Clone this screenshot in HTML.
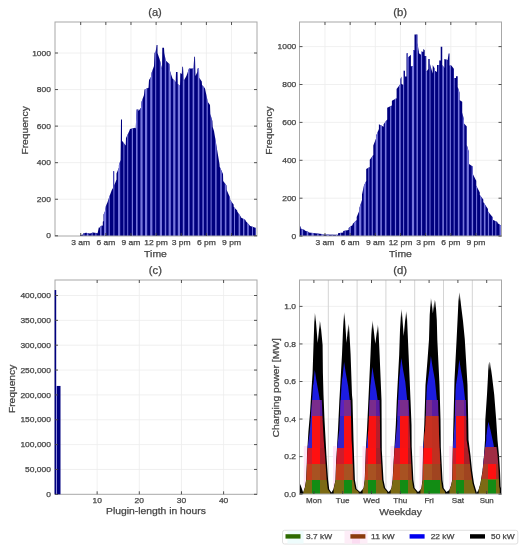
<!DOCTYPE html>
<html><head><meta charset="utf-8"><style>
html,body{margin:0;padding:0;background:#fff;overflow:hidden;}
svg{display:block;will-change:transform;font-family:"Liberation Sans", sans-serif;}

</style></head><body>
<svg width="526" height="550" viewBox="0 0 526 550">
<rect width="526" height="550" fill="#fff"/>
<g>
<line x1="80.69" y1="22" x2="80.69" y2="236" stroke="#ececec" stroke-width="0.8"/>
<line x1="105.83" y1="22" x2="105.83" y2="236" stroke="#ececec" stroke-width="0.8"/>
<line x1="130.97" y1="22" x2="130.97" y2="236" stroke="#ececec" stroke-width="0.8"/>
<line x1="156.11" y1="22" x2="156.11" y2="236" stroke="#ececec" stroke-width="0.8"/>
<line x1="181.25" y1="22" x2="181.25" y2="236" stroke="#ececec" stroke-width="0.8"/>
<line x1="206.39" y1="22" x2="206.39" y2="236" stroke="#ececec" stroke-width="0.8"/>
<line x1="231.53" y1="22" x2="231.53" y2="236" stroke="#ececec" stroke-width="0.8"/>
<line x1="55" y1="199.24" x2="257" y2="199.24" stroke="#ececec" stroke-width="0.8"/>
<line x1="55" y1="162.68" x2="257" y2="162.68" stroke="#ececec" stroke-width="0.8"/>
<line x1="55" y1="126.12" x2="257" y2="126.12" stroke="#ececec" stroke-width="0.8"/>
<line x1="55" y1="89.56" x2="257" y2="89.56" stroke="#ececec" stroke-width="0.8"/>
<line x1="55" y1="53" x2="257" y2="53" stroke="#ececec" stroke-width="0.8"/>
<defs>
<pattern id="stripeA" patternUnits="userSpaceOnUse" x="0" y="0" width="8.2" height="10"><rect width="8.2" height="10" fill="#00007e"/><rect x="2.6" width="1.5" height="10" fill="#7474dc"/><rect x="6.6" width="1.3" height="10" fill="#6c6cd6"/></pattern>
<pattern id="stripeB" patternUnits="userSpaceOnUse" x="1.2" y="0" width="8.2" height="10"><rect width="8.2" height="10" fill="#00007e"/><rect x="2.6" width="1.5" height="10" fill="#7474dc"/><rect x="6.6" width="1.3" height="10" fill="#6c6cd6"/></pattern>
</defs>
<clipPath id="clipstripeA"><polygon points="55.5,236 80,236 80.5,235 83,234.5 83,233.5 86,232.8 90,233.6 93,232.6 97.6,233.2 98.8,227.4 100.5,227.4 100.5,226 102.8,225.5 102.8,221.7 103.5,221 103.5,214.5 104.8,212 105.9,206 107.6,202 109.4,196.5 111.8,190 113,188 113,171.3 114.2,171.3 114.2,185.4 116.5,179.5 116.5,173.6 118.9,167.7 118.9,165.3 120.6,160 121,119.5 122,119.5 122,140.7 125.7,145.5 126,138 129.3,131 130,129 135,127.7 135.7,128.6 136.6,109.5 138.5,109.5 138.5,111 141,107.7 141.5,102 144,95 144.5,89.5 148.5,87.7 149,80 151,77 151.5,73 154,66 154.5,53 155.7,51.4 156.6,45 157.5,45 157.5,53 159.4,58.6 160,60.5 162,69.5 162.3,47.7 164,47.7 164.3,53 165.7,60.5 169.4,64 170,71 172,77 172.5,78.6 175.7,82 176,72 177.5,72 177.8,84 180,86 180.3,73 181.8,74 182.3,66.8 183,66.8 183.6,81 186.4,76 189,68.6 193.6,68.6 194.2,56.8 195,56.8 195.5,76 197.3,72 197.5,68.6 199,68.6 199.2,77.7 201.8,81.4 202,85 204.5,87.7 205,88.6 207.3,99.5 207.5,101.4 210,105 210.3,114 212.4,121 212.7,127 214,131 216,143 216.4,145.5 219.5,164 219.7,166.7 223,174 223.2,181 226.5,185.6 226.7,190 230,197.5 230.2,200 233.6,204.6 233.8,207 237.2,210.5 237.4,211.7 240.7,216.4 241,217.5 245.5,220 245.7,221 250.2,226 250.4,226 256,228 256,236"/></clipPath>
<polygon points="55.5,236 80,236 80.5,235 83,234.5 83,233.5 86,232.8 90,233.6 93,232.6 97.6,233.2 98.8,227.4 100.5,227.4 100.5,226 102.8,225.5 102.8,221.7 103.5,221 103.5,214.5 104.8,212 105.9,206 107.6,202 109.4,196.5 111.8,190 113,188 113,171.3 114.2,171.3 114.2,185.4 116.5,179.5 116.5,173.6 118.9,167.7 118.9,165.3 120.6,160 121,119.5 122,119.5 122,140.7 125.7,145.5 126,138 129.3,131 130,129 135,127.7 135.7,128.6 136.6,109.5 138.5,109.5 138.5,111 141,107.7 141.5,102 144,95 144.5,89.5 148.5,87.7 149,80 151,77 151.5,73 154,66 154.5,53 155.7,51.4 156.6,45 157.5,45 157.5,53 159.4,58.6 160,60.5 162,69.5 162.3,47.7 164,47.7 164.3,53 165.7,60.5 169.4,64 170,71 172,77 172.5,78.6 175.7,82 176,72 177.5,72 177.8,84 180,86 180.3,73 181.8,74 182.3,66.8 183,66.8 183.6,81 186.4,76 189,68.6 193.6,68.6 194.2,56.8 195,56.8 195.5,76 197.3,72 197.5,68.6 199,68.6 199.2,77.7 201.8,81.4 202,85 204.5,87.7 205,88.6 207.3,99.5 207.5,101.4 210,105 210.3,114 212.4,121 212.7,127 214,131 216,143 216.4,145.5 219.5,164 219.7,166.7 223,174 223.2,181 226.5,185.6 226.7,190 230,197.5 230.2,200 233.6,204.6 233.8,207 237.2,210.5 237.4,211.7 240.7,216.4 241,217.5 245.5,220 245.7,221 250.2,226 250.4,226 256,228 256,236" fill="#00007e"/>
<g clip-path="url(#clipstripeA)" fill="#7676dc"><rect x="57" y="45" width="1.4" height="195"/><rect x="61.2" y="45" width="1.6" height="195"/><rect x="65.2" y="45" width="1" height="195"/><rect x="69.8" y="45" width="1" height="195"/><rect x="73.8" y="45" width="2.2" height="195"/><rect x="78.4" y="45" width="2.2" height="195"/><rect x="83.4" y="45" width="1" height="195"/><rect x="86.8" y="45" width="1.6" height="195"/><rect x="91.6" y="45" width="1" height="195"/><rect x="95.4" y="45" width="1" height="195"/><rect x="100" y="45" width="1.6" height="195"/><rect x="104" y="45" width="2.2" height="195"/><rect x="108.6" y="45" width="1.2" height="195"/><rect x="113.4" y="45" width="1" height="195"/><rect x="118" y="45" width="2.2" height="195"/><rect x="123.4" y="45" width="1" height="195"/><rect x="127.2" y="45" width="1" height="195"/><rect x="131.8" y="45" width="1.2" height="195"/><rect x="136" y="45" width="1.6" height="195"/><rect x="140.4" y="45" width="2.2" height="195"/><rect x="145" y="45" width="2.2" height="195"/><rect x="150.2" y="45" width="2.2" height="195"/><rect x="155.2" y="45" width="1" height="195"/><rect x="159.8" y="45" width="2.2" height="195"/><rect x="164.8" y="45" width="1.4" height="195"/><rect x="168.6" y="45" width="2.2" height="195"/><rect x="173.2" y="45" width="2.2" height="195"/><rect x="177.8" y="45" width="2.2" height="195"/><rect x="182.8" y="45" width="1.6" height="195"/><rect x="188" y="45" width="1.6" height="195"/><rect x="192.6" y="45" width="1.6" height="195"/><rect x="197.8" y="45" width="1.6" height="195"/><rect x="202.4" y="45" width="1.4" height="195"/><rect x="206.6" y="45" width="1.2" height="195"/><rect x="210.6" y="45" width="1" height="195"/><rect x="215.2" y="45" width="1.4" height="195"/><rect x="220.2" y="45" width="1.6" height="195"/><rect x="224.8" y="45" width="1.6" height="195"/><rect x="229.4" y="45" width="2.2" height="195"/><rect x="234" y="45" width="1" height="195"/><rect x="238.6" y="45" width="1.6" height="195"/><rect x="243" y="45" width="1.4" height="195"/><rect x="247.2" y="45" width="1.6" height="195"/><rect x="252" y="45" width="1" height="195"/><rect x="255.4" y="45" width="2.2" height="195"/></g>
<rect x="55" y="22" width="202" height="214" fill="none" stroke="#a8a8a8" stroke-width="1"/>
<line x1="80.69" y1="236" x2="80.69" y2="233" stroke="#404040" stroke-width="0.9"/>
<line x1="80.69" y1="22" x2="80.69" y2="25" stroke="#404040" stroke-width="0.9"/>
<line x1="105.83" y1="236" x2="105.83" y2="233" stroke="#404040" stroke-width="0.9"/>
<line x1="105.83" y1="22" x2="105.83" y2="25" stroke="#404040" stroke-width="0.9"/>
<line x1="130.97" y1="236" x2="130.97" y2="233" stroke="#404040" stroke-width="0.9"/>
<line x1="130.97" y1="22" x2="130.97" y2="25" stroke="#404040" stroke-width="0.9"/>
<line x1="156.11" y1="236" x2="156.11" y2="233" stroke="#404040" stroke-width="0.9"/>
<line x1="156.11" y1="22" x2="156.11" y2="25" stroke="#404040" stroke-width="0.9"/>
<line x1="181.25" y1="236" x2="181.25" y2="233" stroke="#404040" stroke-width="0.9"/>
<line x1="181.25" y1="22" x2="181.25" y2="25" stroke="#404040" stroke-width="0.9"/>
<line x1="206.39" y1="236" x2="206.39" y2="233" stroke="#404040" stroke-width="0.9"/>
<line x1="206.39" y1="22" x2="206.39" y2="25" stroke="#404040" stroke-width="0.9"/>
<line x1="231.53" y1="236" x2="231.53" y2="233" stroke="#404040" stroke-width="0.9"/>
<line x1="231.53" y1="22" x2="231.53" y2="25" stroke="#404040" stroke-width="0.9"/>
<line x1="55" y1="235.8" x2="58" y2="235.8" stroke="#404040" stroke-width="0.9"/>
<line x1="257" y1="235.8" x2="254" y2="235.8" stroke="#404040" stroke-width="0.9"/>
<line x1="55" y1="199.24" x2="58" y2="199.24" stroke="#404040" stroke-width="0.9"/>
<line x1="257" y1="199.24" x2="254" y2="199.24" stroke="#404040" stroke-width="0.9"/>
<line x1="55" y1="162.68" x2="58" y2="162.68" stroke="#404040" stroke-width="0.9"/>
<line x1="257" y1="162.68" x2="254" y2="162.68" stroke="#404040" stroke-width="0.9"/>
<line x1="55" y1="126.12" x2="58" y2="126.12" stroke="#404040" stroke-width="0.9"/>
<line x1="257" y1="126.12" x2="254" y2="126.12" stroke="#404040" stroke-width="0.9"/>
<line x1="55" y1="89.56" x2="58" y2="89.56" stroke="#404040" stroke-width="0.9"/>
<line x1="257" y1="89.56" x2="254" y2="89.56" stroke="#404040" stroke-width="0.9"/>
<line x1="55" y1="53" x2="58" y2="53" stroke="#404040" stroke-width="0.9"/>
<line x1="257" y1="53" x2="254" y2="53" stroke="#404040" stroke-width="0.9"/>
<text x="80.69" y="245" font-size="7.55" stroke="#454545" stroke-width="0.25" text-anchor="middle" fill="#454545" textLength="18.8" lengthAdjust="spacingAndGlyphs">3 am</text>
<text x="105.83" y="245" font-size="7.55" stroke="#454545" stroke-width="0.25" text-anchor="middle" fill="#454545" textLength="18.8" lengthAdjust="spacingAndGlyphs">6 am</text>
<text x="130.97" y="245" font-size="7.55" stroke="#454545" stroke-width="0.25" text-anchor="middle" fill="#454545" textLength="18.8" lengthAdjust="spacingAndGlyphs">9 am</text>
<text x="156.11" y="245" font-size="7.55" stroke="#454545" stroke-width="0.25" text-anchor="middle" fill="#454545" textLength="23.67" lengthAdjust="spacingAndGlyphs">12 pm</text>
<text x="181.25" y="245" font-size="7.55" stroke="#454545" stroke-width="0.25" text-anchor="middle" fill="#454545" textLength="18.97" lengthAdjust="spacingAndGlyphs">3 pm</text>
<text x="206.39" y="245" font-size="7.55" stroke="#454545" stroke-width="0.25" text-anchor="middle" fill="#454545" textLength="18.97" lengthAdjust="spacingAndGlyphs">6 pm</text>
<text x="231.53" y="245" font-size="7.55" stroke="#454545" stroke-width="0.25" text-anchor="middle" fill="#454545" textLength="18.97" lengthAdjust="spacingAndGlyphs">9 pm</text>
<text x="51" y="238.4" font-size="7.55" stroke="#454545" stroke-width="0.25" text-anchor="end" fill="#454545" textLength="4.71" lengthAdjust="spacingAndGlyphs">0</text>
<text x="51" y="201.84" font-size="7.55" stroke="#454545" stroke-width="0.25" text-anchor="end" fill="#454545" textLength="14.12" lengthAdjust="spacingAndGlyphs">200</text>
<text x="51" y="165.28" font-size="7.55" stroke="#454545" stroke-width="0.25" text-anchor="end" fill="#454545" textLength="14.12" lengthAdjust="spacingAndGlyphs">400</text>
<text x="51" y="128.72" font-size="7.55" stroke="#454545" stroke-width="0.25" text-anchor="end" fill="#454545" textLength="14.12" lengthAdjust="spacingAndGlyphs">600</text>
<text x="51" y="92.16" font-size="7.55" stroke="#454545" stroke-width="0.25" text-anchor="end" fill="#454545" textLength="14.12" lengthAdjust="spacingAndGlyphs">800</text>
<text x="51" y="55.6" font-size="7.55" stroke="#454545" stroke-width="0.25" text-anchor="end" fill="#454545" textLength="18.83" lengthAdjust="spacingAndGlyphs">1000</text>
<text x="155.5" y="256.6" font-size="9.38" stroke="#454545" stroke-width="0.25" text-anchor="middle" fill="#454545" textLength="22.8" lengthAdjust="spacingAndGlyphs">Time</text>
<text x="28.2" y="130.4" font-size="9.38" stroke="#454545" stroke-width="0.25" text-anchor="middle" fill="#454545" textLength="48.4" lengthAdjust="spacingAndGlyphs" transform="rotate(-90 28.2 130.4)">Frequency</text>
<text x="155" y="15.9" font-size="10" stroke="#454545" stroke-width="0.25" text-anchor="middle" fill="#454545" textLength="13.65" lengthAdjust="spacingAndGlyphs">(a)</text>
<line x1="324.97" y1="22" x2="324.97" y2="236" stroke="#ececec" stroke-width="0.8"/>
<line x1="350.14" y1="22" x2="350.14" y2="236" stroke="#ececec" stroke-width="0.8"/>
<line x1="375.31" y1="22" x2="375.31" y2="236" stroke="#ececec" stroke-width="0.8"/>
<line x1="400.48" y1="22" x2="400.48" y2="236" stroke="#ececec" stroke-width="0.8"/>
<line x1="425.65" y1="22" x2="425.65" y2="236" stroke="#ececec" stroke-width="0.8"/>
<line x1="450.82" y1="22" x2="450.82" y2="236" stroke="#ececec" stroke-width="0.8"/>
<line x1="475.99" y1="22" x2="475.99" y2="236" stroke="#ececec" stroke-width="0.8"/>
<line x1="299.5" y1="198.2" x2="501.5" y2="198.2" stroke="#ececec" stroke-width="0.8"/>
<line x1="299.5" y1="160.3" x2="501.5" y2="160.3" stroke="#ececec" stroke-width="0.8"/>
<line x1="299.5" y1="122.4" x2="501.5" y2="122.4" stroke="#ececec" stroke-width="0.8"/>
<line x1="299.5" y1="84.5" x2="501.5" y2="84.5" stroke="#ececec" stroke-width="0.8"/>
<line x1="299.5" y1="46.6" x2="501.5" y2="46.6" stroke="#ececec" stroke-width="0.8"/>
<clipPath id="clipstripeB"><polygon points="300,236 300,226.6 300.7,226.6 300.7,228.6 304.7,230 304.7,230.6 308.6,232 308.6,232.6 315.3,233.2 322,234 322,234.5 338,234.8 338,233.2 343.2,232.6 343.2,231 348.6,230 348.6,228 352.6,225 352.6,224 356.7,220 356.7,217 359.4,210.6 359.4,208 362,200 362,194.6 363.9,185.8 366.2,181 366.2,169 369.8,167 369.8,159.8 373.3,155 373.3,145.6 376.05,138.5 376.05,136 378.9,129 378.9,124.3 383.6,126.7 383.6,124.3 387.2,119.6 387.2,107.8 391.9,105.4 391.9,100.7 396.6,98.3 396.6,89 400.2,84.2 400.2,79.4 401.5,76.5 401.5,83.8 403.6,85.2 403.6,70.7 405,70.7 405,76.5 406.5,76.5 406.5,53.3 408,53.3 408,57.6 410.9,54.7 410.9,66.3 413,66.3 413,50.3 414.5,50.3 414.5,34.4 417.4,34.4 417.4,43 418.9,51.8 418.9,53.3 421,54.7 421,51.8 423.3,51.8 423.3,49 424.7,50.3 424.7,56 426.2,56 426.2,72 428.3,69 428.3,59 429.8,59 429.8,63.4 432.7,73.6 432.7,65 434.9,69 434.9,70.7 437,72 437,65 439.2,65 439.2,60.5 440.7,60.5 440.7,46.7 442.2,46.7 442.2,65 444.3,67.8 444.3,59 447.7,60 448.6,53.6 449.5,53.6 449.5,65.4 451.4,65.4 454,69 454,78 456,78 456,76.3 457.7,76.3 457.7,87 459.5,92.6 459.5,100 462.2,101.7 462.2,112.6 464,120 464,123.5 466.8,126.5 466.8,145 469,152.5 469,164 472.7,166.6 472.7,173.7 476.2,180.8 476.2,185.5 479.8,192.5 479.8,195 483.3,199.6 483.3,202 488,209 488,211.4 492.7,217.3 492.7,219.7 497.5,222 497.5,223 501,225.6 501,236"/></clipPath>
<polygon points="300,236 300,226.6 300.7,226.6 300.7,228.6 304.7,230 304.7,230.6 308.6,232 308.6,232.6 315.3,233.2 322,234 322,234.5 338,234.8 338,233.2 343.2,232.6 343.2,231 348.6,230 348.6,228 352.6,225 352.6,224 356.7,220 356.7,217 359.4,210.6 359.4,208 362,200 362,194.6 363.9,185.8 366.2,181 366.2,169 369.8,167 369.8,159.8 373.3,155 373.3,145.6 376.05,138.5 376.05,136 378.9,129 378.9,124.3 383.6,126.7 383.6,124.3 387.2,119.6 387.2,107.8 391.9,105.4 391.9,100.7 396.6,98.3 396.6,89 400.2,84.2 400.2,79.4 401.5,76.5 401.5,83.8 403.6,85.2 403.6,70.7 405,70.7 405,76.5 406.5,76.5 406.5,53.3 408,53.3 408,57.6 410.9,54.7 410.9,66.3 413,66.3 413,50.3 414.5,50.3 414.5,34.4 417.4,34.4 417.4,43 418.9,51.8 418.9,53.3 421,54.7 421,51.8 423.3,51.8 423.3,49 424.7,50.3 424.7,56 426.2,56 426.2,72 428.3,69 428.3,59 429.8,59 429.8,63.4 432.7,73.6 432.7,65 434.9,69 434.9,70.7 437,72 437,65 439.2,65 439.2,60.5 440.7,60.5 440.7,46.7 442.2,46.7 442.2,65 444.3,67.8 444.3,59 447.7,60 448.6,53.6 449.5,53.6 449.5,65.4 451.4,65.4 454,69 454,78 456,78 456,76.3 457.7,76.3 457.7,87 459.5,92.6 459.5,100 462.2,101.7 462.2,112.6 464,120 464,123.5 466.8,126.5 466.8,145 469,152.5 469,164 472.7,166.6 472.7,173.7 476.2,180.8 476.2,185.5 479.8,192.5 479.8,195 483.3,199.6 483.3,202 488,209 488,211.4 492.7,217.3 492.7,219.7 497.5,222 497.5,223 501,225.6 501,236" fill="#00007e"/>
<g clip-path="url(#clipstripeB)" fill="#7676dc"><rect x="301.5" y="34.4" width="1.6" height="205.6"/><rect x="306.7" y="34.4" width="1.6" height="205.6"/><rect x="311.5" y="34.4" width="2.2" height="205.6"/><rect x="317.3" y="34.4" width="1.2" height="205.6"/><rect x="321.3" y="34.4" width="2.2" height="205.6"/><rect x="326.7" y="34.4" width="2.2" height="205.6"/><rect x="331.7" y="34.4" width="1" height="205.6"/><rect x="335.9" y="34.4" width="1.4" height="205.6"/><rect x="340.1" y="34.4" width="1" height="205.6"/><rect x="344.7" y="34.4" width="1" height="205.6"/><rect x="349.3" y="34.4" width="1.6" height="205.6"/><rect x="354.1" y="34.4" width="2.2" height="205.6"/><rect x="359.1" y="34.4" width="2.2" height="205.6"/><rect x="363.7" y="34.4" width="2.2" height="205.6"/><rect x="368.3" y="34.4" width="1" height="205.6"/><rect x="371.7" y="34.4" width="1.2" height="205.6"/><rect x="375.7" y="34.4" width="2.2" height="205.6"/><rect x="380.3" y="34.4" width="1.6" height="205.6"/><rect x="384.9" y="34.4" width="1.6" height="205.6"/><rect x="390.1" y="34.4" width="1.2" height="205.6"/><rect x="394.9" y="34.4" width="1.2" height="205.6"/><rect x="399.1" y="34.4" width="1.6" height="205.6"/><rect x="403.1" y="34.4" width="1" height="205.6"/><rect x="407.3" y="34.4" width="1.4" height="205.6"/><rect x="411.9" y="34.4" width="2.2" height="205.6"/><rect x="416.5" y="34.4" width="1.4" height="205.6"/><rect x="420.9" y="34.4" width="1.2" height="205.6"/><rect x="425.7" y="34.4" width="1.4" height="205.6"/><rect x="429.5" y="34.4" width="1" height="205.6"/><rect x="434.1" y="34.4" width="1" height="205.6"/><rect x="438.3" y="34.4" width="1" height="205.6"/><rect x="442.3" y="34.4" width="1.6" height="205.6"/><rect x="446.3" y="34.4" width="1" height="205.6"/><rect x="449.7" y="34.4" width="1.2" height="205.6"/><rect x="453.7" y="34.4" width="1" height="205.6"/><rect x="457.9" y="34.4" width="1.6" height="205.6"/><rect x="462.7" y="34.4" width="1.6" height="205.6"/><rect x="466.7" y="34.4" width="2.2" height="205.6"/><rect x="471.7" y="34.4" width="1.4" height="205.6"/><rect x="476.1" y="34.4" width="1" height="205.6"/><rect x="480.1" y="34.4" width="1.4" height="205.6"/><rect x="483.9" y="34.4" width="1.6" height="205.6"/><rect x="487.9" y="34.4" width="1.2" height="205.6"/><rect x="491.9" y="34.4" width="1" height="205.6"/><rect x="495.3" y="34.4" width="1" height="205.6"/><rect x="499.5" y="34.4" width="1.6" height="205.6"/></g>
<rect x="299.5" y="22" width="202" height="214" fill="none" stroke="#a8a8a8" stroke-width="1"/>
<line x1="324.97" y1="236" x2="324.97" y2="233" stroke="#404040" stroke-width="0.9"/>
<line x1="324.97" y1="22" x2="324.97" y2="25" stroke="#404040" stroke-width="0.9"/>
<line x1="350.14" y1="236" x2="350.14" y2="233" stroke="#404040" stroke-width="0.9"/>
<line x1="350.14" y1="22" x2="350.14" y2="25" stroke="#404040" stroke-width="0.9"/>
<line x1="375.31" y1="236" x2="375.31" y2="233" stroke="#404040" stroke-width="0.9"/>
<line x1="375.31" y1="22" x2="375.31" y2="25" stroke="#404040" stroke-width="0.9"/>
<line x1="400.48" y1="236" x2="400.48" y2="233" stroke="#404040" stroke-width="0.9"/>
<line x1="400.48" y1="22" x2="400.48" y2="25" stroke="#404040" stroke-width="0.9"/>
<line x1="425.65" y1="236" x2="425.65" y2="233" stroke="#404040" stroke-width="0.9"/>
<line x1="425.65" y1="22" x2="425.65" y2="25" stroke="#404040" stroke-width="0.9"/>
<line x1="450.82" y1="236" x2="450.82" y2="233" stroke="#404040" stroke-width="0.9"/>
<line x1="450.82" y1="22" x2="450.82" y2="25" stroke="#404040" stroke-width="0.9"/>
<line x1="475.99" y1="236" x2="475.99" y2="233" stroke="#404040" stroke-width="0.9"/>
<line x1="475.99" y1="22" x2="475.99" y2="25" stroke="#404040" stroke-width="0.9"/>
<line x1="299.5" y1="236.1" x2="302.5" y2="236.1" stroke="#404040" stroke-width="0.9"/>
<line x1="501.5" y1="236.1" x2="498.5" y2="236.1" stroke="#404040" stroke-width="0.9"/>
<line x1="299.5" y1="198.2" x2="302.5" y2="198.2" stroke="#404040" stroke-width="0.9"/>
<line x1="501.5" y1="198.2" x2="498.5" y2="198.2" stroke="#404040" stroke-width="0.9"/>
<line x1="299.5" y1="160.3" x2="302.5" y2="160.3" stroke="#404040" stroke-width="0.9"/>
<line x1="501.5" y1="160.3" x2="498.5" y2="160.3" stroke="#404040" stroke-width="0.9"/>
<line x1="299.5" y1="122.4" x2="302.5" y2="122.4" stroke="#404040" stroke-width="0.9"/>
<line x1="501.5" y1="122.4" x2="498.5" y2="122.4" stroke="#404040" stroke-width="0.9"/>
<line x1="299.5" y1="84.5" x2="302.5" y2="84.5" stroke="#404040" stroke-width="0.9"/>
<line x1="501.5" y1="84.5" x2="498.5" y2="84.5" stroke="#404040" stroke-width="0.9"/>
<line x1="299.5" y1="46.6" x2="302.5" y2="46.6" stroke="#404040" stroke-width="0.9"/>
<line x1="501.5" y1="46.6" x2="498.5" y2="46.6" stroke="#404040" stroke-width="0.9"/>
<text x="324.97" y="245" font-size="7.55" stroke="#454545" stroke-width="0.25" text-anchor="middle" fill="#454545" textLength="18.8" lengthAdjust="spacingAndGlyphs">3 am</text>
<text x="350.14" y="245" font-size="7.55" stroke="#454545" stroke-width="0.25" text-anchor="middle" fill="#454545" textLength="18.8" lengthAdjust="spacingAndGlyphs">6 am</text>
<text x="375.31" y="245" font-size="7.55" stroke="#454545" stroke-width="0.25" text-anchor="middle" fill="#454545" textLength="18.8" lengthAdjust="spacingAndGlyphs">9 am</text>
<text x="400.48" y="245" font-size="7.55" stroke="#454545" stroke-width="0.25" text-anchor="middle" fill="#454545" textLength="23.67" lengthAdjust="spacingAndGlyphs">12 pm</text>
<text x="425.65" y="245" font-size="7.55" stroke="#454545" stroke-width="0.25" text-anchor="middle" fill="#454545" textLength="18.97" lengthAdjust="spacingAndGlyphs">3 pm</text>
<text x="450.82" y="245" font-size="7.55" stroke="#454545" stroke-width="0.25" text-anchor="middle" fill="#454545" textLength="18.97" lengthAdjust="spacingAndGlyphs">6 pm</text>
<text x="475.99" y="245" font-size="7.55" stroke="#454545" stroke-width="0.25" text-anchor="middle" fill="#454545" textLength="18.97" lengthAdjust="spacingAndGlyphs">9 pm</text>
<text x="296.3" y="238.7" font-size="7.55" stroke="#454545" stroke-width="0.25" text-anchor="end" fill="#454545" textLength="4.71" lengthAdjust="spacingAndGlyphs">0</text>
<text x="296.3" y="200.8" font-size="7.55" stroke="#454545" stroke-width="0.25" text-anchor="end" fill="#454545" textLength="14.12" lengthAdjust="spacingAndGlyphs">200</text>
<text x="296.3" y="162.9" font-size="7.55" stroke="#454545" stroke-width="0.25" text-anchor="end" fill="#454545" textLength="14.12" lengthAdjust="spacingAndGlyphs">400</text>
<text x="296.3" y="125" font-size="7.55" stroke="#454545" stroke-width="0.25" text-anchor="end" fill="#454545" textLength="14.12" lengthAdjust="spacingAndGlyphs">600</text>
<text x="296.3" y="87.1" font-size="7.55" stroke="#454545" stroke-width="0.25" text-anchor="end" fill="#454545" textLength="14.12" lengthAdjust="spacingAndGlyphs">800</text>
<text x="296.3" y="49.2" font-size="7.55" stroke="#454545" stroke-width="0.25" text-anchor="end" fill="#454545" textLength="18.83" lengthAdjust="spacingAndGlyphs">1000</text>
<text x="400.5" y="256.6" font-size="9.38" stroke="#454545" stroke-width="0.25" text-anchor="middle" fill="#454545" textLength="22.8" lengthAdjust="spacingAndGlyphs">Time</text>
<text x="271.5" y="130.5" font-size="9.38" stroke="#454545" stroke-width="0.25" text-anchor="middle" fill="#454545" textLength="48.4" lengthAdjust="spacingAndGlyphs" transform="rotate(-90 271.5 130.5)">Frequency</text>
<text x="400.2" y="15.9" font-size="10" stroke="#454545" stroke-width="0.25" text-anchor="middle" fill="#454545" textLength="13.87" lengthAdjust="spacingAndGlyphs">(b)</text>
<line x1="97.15" y1="280" x2="97.15" y2="494.3" stroke="#ececec" stroke-width="0.8"/>
<line x1="139.3" y1="280" x2="139.3" y2="494.3" stroke="#ececec" stroke-width="0.8"/>
<line x1="181.45" y1="280" x2="181.45" y2="494.3" stroke="#ececec" stroke-width="0.8"/>
<line x1="223.6" y1="280" x2="223.6" y2="494.3" stroke="#ececec" stroke-width="0.8"/>
<line x1="55" y1="469.45" x2="257" y2="469.45" stroke="#ececec" stroke-width="0.8"/>
<line x1="55" y1="444.6" x2="257" y2="444.6" stroke="#ececec" stroke-width="0.8"/>
<line x1="55" y1="419.75" x2="257" y2="419.75" stroke="#ececec" stroke-width="0.8"/>
<line x1="55" y1="394.9" x2="257" y2="394.9" stroke="#ececec" stroke-width="0.8"/>
<line x1="55" y1="370.05" x2="257" y2="370.05" stroke="#ececec" stroke-width="0.8"/>
<line x1="55" y1="345.2" x2="257" y2="345.2" stroke="#ececec" stroke-width="0.8"/>
<line x1="55" y1="320.35" x2="257" y2="320.35" stroke="#ececec" stroke-width="0.8"/>
<line x1="55" y1="295.5" x2="257" y2="295.5" stroke="#ececec" stroke-width="0.8"/>
<rect x="55" y="280" width="202" height="214.3" fill="none" stroke="#a8a8a8" stroke-width="1"/>
<rect x="54.6" y="290.03" width="1.6" height="204.27" fill="#000080"/>
<rect x="56.2" y="385.95" width="0.7" height="108.35" fill="#8a8ae0"/>
<rect x="56.9" y="385.95" width="3.6" height="108.35" fill="#000080"/>
<line x1="97.15" y1="494.3" x2="97.15" y2="491.3" stroke="#404040" stroke-width="0.9"/>
<line x1="97.15" y1="280" x2="97.15" y2="283" stroke="#404040" stroke-width="0.9"/>
<line x1="139.3" y1="494.3" x2="139.3" y2="491.3" stroke="#404040" stroke-width="0.9"/>
<line x1="139.3" y1="280" x2="139.3" y2="283" stroke="#404040" stroke-width="0.9"/>
<line x1="181.45" y1="494.3" x2="181.45" y2="491.3" stroke="#404040" stroke-width="0.9"/>
<line x1="181.45" y1="280" x2="181.45" y2="283" stroke="#404040" stroke-width="0.9"/>
<line x1="223.6" y1="494.3" x2="223.6" y2="491.3" stroke="#404040" stroke-width="0.9"/>
<line x1="223.6" y1="280" x2="223.6" y2="283" stroke="#404040" stroke-width="0.9"/>
<line x1="55" y1="494.3" x2="58" y2="494.3" stroke="#404040" stroke-width="0.9"/>
<line x1="257" y1="494.3" x2="254" y2="494.3" stroke="#404040" stroke-width="0.9"/>
<line x1="55" y1="469.45" x2="58" y2="469.45" stroke="#404040" stroke-width="0.9"/>
<line x1="257" y1="469.45" x2="254" y2="469.45" stroke="#404040" stroke-width="0.9"/>
<line x1="55" y1="444.6" x2="58" y2="444.6" stroke="#404040" stroke-width="0.9"/>
<line x1="257" y1="444.6" x2="254" y2="444.6" stroke="#404040" stroke-width="0.9"/>
<line x1="55" y1="419.75" x2="58" y2="419.75" stroke="#404040" stroke-width="0.9"/>
<line x1="257" y1="419.75" x2="254" y2="419.75" stroke="#404040" stroke-width="0.9"/>
<line x1="55" y1="394.9" x2="58" y2="394.9" stroke="#404040" stroke-width="0.9"/>
<line x1="257" y1="394.9" x2="254" y2="394.9" stroke="#404040" stroke-width="0.9"/>
<line x1="55" y1="370.05" x2="58" y2="370.05" stroke="#404040" stroke-width="0.9"/>
<line x1="257" y1="370.05" x2="254" y2="370.05" stroke="#404040" stroke-width="0.9"/>
<line x1="55" y1="345.2" x2="58" y2="345.2" stroke="#404040" stroke-width="0.9"/>
<line x1="257" y1="345.2" x2="254" y2="345.2" stroke="#404040" stroke-width="0.9"/>
<line x1="55" y1="320.35" x2="58" y2="320.35" stroke="#404040" stroke-width="0.9"/>
<line x1="257" y1="320.35" x2="254" y2="320.35" stroke="#404040" stroke-width="0.9"/>
<line x1="55" y1="295.5" x2="58" y2="295.5" stroke="#404040" stroke-width="0.9"/>
<line x1="257" y1="295.5" x2="254" y2="295.5" stroke="#404040" stroke-width="0.9"/>
<text x="97.15" y="503" font-size="7.55" stroke="#454545" stroke-width="0.25" text-anchor="middle" fill="#454545" textLength="9.41" lengthAdjust="spacingAndGlyphs">10</text>
<text x="139.3" y="503" font-size="7.55" stroke="#454545" stroke-width="0.25" text-anchor="middle" fill="#454545" textLength="9.41" lengthAdjust="spacingAndGlyphs">20</text>
<text x="181.45" y="503" font-size="7.55" stroke="#454545" stroke-width="0.25" text-anchor="middle" fill="#454545" textLength="9.41" lengthAdjust="spacingAndGlyphs">30</text>
<text x="223.6" y="503" font-size="7.55" stroke="#454545" stroke-width="0.25" text-anchor="middle" fill="#454545" textLength="9.41" lengthAdjust="spacingAndGlyphs">40</text>
<text x="51" y="496.9" font-size="7.55" stroke="#454545" stroke-width="0.25" text-anchor="end" fill="#454545" textLength="4.71" lengthAdjust="spacingAndGlyphs">0</text>
<text x="51" y="472.05" font-size="7.55" stroke="#454545" stroke-width="0.25" text-anchor="end" fill="#454545" textLength="25.89" lengthAdjust="spacingAndGlyphs">50,000</text>
<text x="51" y="447.2" font-size="7.55" stroke="#454545" stroke-width="0.25" text-anchor="end" fill="#454545" textLength="30.59" lengthAdjust="spacingAndGlyphs">100,000</text>
<text x="51" y="422.35" font-size="7.55" stroke="#454545" stroke-width="0.25" text-anchor="end" fill="#454545" textLength="30.59" lengthAdjust="spacingAndGlyphs">150,000</text>
<text x="51" y="397.5" font-size="7.55" stroke="#454545" stroke-width="0.25" text-anchor="end" fill="#454545" textLength="30.59" lengthAdjust="spacingAndGlyphs">200,000</text>
<text x="51" y="372.65" font-size="7.55" stroke="#454545" stroke-width="0.25" text-anchor="end" fill="#454545" textLength="30.59" lengthAdjust="spacingAndGlyphs">250,000</text>
<text x="51" y="347.8" font-size="7.55" stroke="#454545" stroke-width="0.25" text-anchor="end" fill="#454545" textLength="30.59" lengthAdjust="spacingAndGlyphs">300,000</text>
<text x="51" y="322.95" font-size="7.55" stroke="#454545" stroke-width="0.25" text-anchor="end" fill="#454545" textLength="30.59" lengthAdjust="spacingAndGlyphs">350,000</text>
<text x="51" y="298.1" font-size="7.55" stroke="#454545" stroke-width="0.25" text-anchor="end" fill="#454545" textLength="30.59" lengthAdjust="spacingAndGlyphs">400,000</text>
<text x="156" y="514" font-size="9.28" stroke="#454545" stroke-width="0.25" text-anchor="middle" fill="#454545" textLength="99.84" lengthAdjust="spacingAndGlyphs">Plugin-length in hours</text>
<text x="15.3" y="388.9" font-size="9.38" stroke="#454545" stroke-width="0.25" text-anchor="middle" fill="#454545" textLength="48.4" lengthAdjust="spacingAndGlyphs" transform="rotate(-90 15.3 388.9)">Frequency</text>
<text x="155.4" y="274.1" font-size="10" stroke="#454545" stroke-width="0.25" text-anchor="middle" fill="#454545" textLength="13.03" lengthAdjust="spacingAndGlyphs">(c)</text>
<line x1="299.5" y1="456.6" x2="501.5" y2="456.6" stroke="#ececec" stroke-width="0.8"/>
<line x1="299.5" y1="419.05" x2="501.5" y2="419.05" stroke="#ececec" stroke-width="0.8"/>
<line x1="299.5" y1="381.5" x2="501.5" y2="381.5" stroke="#ececec" stroke-width="0.8"/>
<line x1="299.5" y1="343.95" x2="501.5" y2="343.95" stroke="#ececec" stroke-width="0.8"/>
<line x1="299.5" y1="306.4" x2="501.5" y2="306.4" stroke="#ececec" stroke-width="0.8"/>
<line x1="328.3" y1="280" x2="328.3" y2="494" stroke="#d4d4d4" stroke-width="1"/>
<line x1="357.1" y1="280" x2="357.1" y2="494" stroke="#d4d4d4" stroke-width="1"/>
<line x1="385.9" y1="280" x2="385.9" y2="494" stroke="#d4d4d4" stroke-width="1"/>
<line x1="414.7" y1="280" x2="414.7" y2="494" stroke="#d4d4d4" stroke-width="1"/>
<line x1="443.5" y1="280" x2="443.5" y2="494" stroke="#d4d4d4" stroke-width="1"/>
<line x1="472.3" y1="280" x2="472.3" y2="494" stroke="#d4d4d4" stroke-width="1"/>
<defs>
<clipPath id="din0"><polygon points="303.35,494 303.35,492.5 305.15,487 306.25,480 306.95,464 307.15,455 307.65,447 309.7,432 311.3,413 312.1,400 313.9,373 314.8,345 315.5,325 314.8,315.8 315.5,319 317.7,346 319,333 319.7,323.7 320.5,326 320.7,345 321,373 321.6,395 322.6,420 323.7,440 325,455 325.6,464 326.7,480 327.8,489.2 330.1,492.6 330.1,494"/></clipPath>
<clipPath id="din1"><polygon points="333.65,494 333.65,489 335.65,480 336.15,464 336.75,455 337.15,447 339.3,430 340.7,400 341,395 343.3,354.5 344.3,330 344.1,315 344.8,319 346.5,346 347.6,335 348.4,326.5 349.1,330 348.7,354.5 350.1,395 350.6,400 351.6,440 352.6,455 353.5,480 355.2,489 358.7,491.9 358.7,494"/></clipPath>
<clipPath id="din2"><polygon points="362.65,494 362.65,489.5 363.75,487.9 364.85,480 365.65,460 365.95,450 368.3,430 369.7,400 371.8,354.5 372.6,335 372.4,323.2 373,327 375.3,346.7 376.6,337 377.8,327.6 378.4,331 377.7,354.5 379.6,400 380.4,450 382.1,480 383.8,487.9 387.2,491.9 387.2,494"/></clipPath>
<clipPath id="din3"><polygon points="390.65,494 390.65,490 391.65,487.9 392.75,480 393.75,462 394.45,450 397.1,425 398.1,400 400.5,354.5 401.3,330 401.3,311.7 402,316 403.7,339 405,325 406.2,314 406.9,318 406.7,354.5 408.6,400 409.6,425 410.3,446.8 412,480 413.2,487.9 416.6,491.9 416.6,494"/></clipPath>
<clipPath id="din4"><polygon points="420.45,494 420.45,490 421.55,487.9 422.65,480 423.25,447 425.6,425 426.8,385 428.8,360 430.3,339.5 431,315 430.9,301 431.6,304 432.9,316.4 433.8,308 434.7,302.7 435.6,305 434.9,320 435.4,339.5 437.6,385 438.6,420 439.4,447 441.1,480 442.2,488 445.1,491.9 445.1,494"/></clipPath>
<clipPath id="din5"><polygon points="449.45,494 449.45,490 451.15,485.6 452.35,480 452.95,447 454.8,420 455.8,380 457.9,339.5 458.8,321 459.8,300 459.3,295.3 459.8,297 459.1,305 461.1,321 462.9,339.5 465.6,385 466.3,420 466.6,440 469.1,455.5 470.7,471 472.6,483.5 475.4,492.8 475.4,494"/></clipPath>
<clipPath id="din6"><polygon points="478.65,494 478.65,490 480.55,483.5 482.65,471 484.15,455.5 486.3,440 486.6,420 488.3,394.5 489.3,376 488.4,368 489.3,364.8 490.2,366 490.1,376 492.3,394.5 494.3,420 495.6,440 497.6,455.5 498.6,471 499.2,486.6 499.8,489 499.8,494"/></clipPath>
</defs>
<rect x="303.8" y="446" width="3.5" height="48" fill="#ffe4f6"/>
<rect x="333" y="446" width="3.5" height="48" fill="#ffe4f6"/>
<rect x="362.5" y="446" width="3.5" height="48" fill="#ffe4f6"/>
<rect x="390.6" y="446" width="3.5" height="48" fill="#ffe4f6"/>
<rect x="419.5" y="446" width="3.5" height="48" fill="#ffe4f6"/>
<rect x="449.2" y="446" width="3.5" height="48" fill="#ffe4f6"/>
<polygon points="299.5,494 299.5,483 300.5,485 302,489 303,492 303.2,492.5 305,487 306.1,480 306.8,464 307,455 307.5,447 308.4,432 310,413 310.8,400 312.6,373 313.5,345 314.2,325 314.8,312.8 315.5,316 317.7,343 319,330 319.7,320.7 320.5,323 322.6,345 322.9,373 323.5,395 324.5,420 325.6,440 326.4,455 327,464 328.1,480 329.2,489.2 331.5,492.6 333.5,489 335.5,480 336,464 336.6,455 337,447 338,430 339.4,400 339.7,395 342,354.5 343,330 344.1,312 344.8,316 346.5,343 347.6,332 348.4,323.5 349.1,327 350.6,354.5 352,395 352.5,400 353.5,440 354,455 354.9,480 356.6,489 360.1,491.9 362.5,489.5 363.6,487.9 364.7,480 365.5,460 365.8,450 367,430 368.4,400 370.5,354.5 371.3,335 372.4,320.2 373,324 375.3,343.7 376.6,334 377.8,324.6 378.4,328 379.6,354.5 381.5,400 381.8,450 383.5,480 385.2,487.9 388.6,491.9 390.5,490 391.5,487.9 392.6,480 393.6,462 394.3,450 395.8,425 396.8,400 399.2,354.5 400,330 401.3,308.7 402,313 403.7,336 405,322 406.2,311 406.9,315 408.6,354.5 410.5,400 411.5,425 411.7,446.8 413.4,480 414.6,487.9 418,491.9 420.3,490 421.4,487.9 422.5,480 423.1,447 424.3,425 425.5,385 427.5,360 429,339.5 429.7,315 430.9,298 431.6,301 432.9,313.4 433.8,305 434.7,299.7 435.6,302 436.8,320 437.3,339.5 439.5,385 440.5,420 440.8,447 442.5,480 443.6,488 446.5,491.9 449.3,490 451,485.6 452.2,480 452.8,447 453.5,420 454.5,380 456.6,339.5 457.5,321 458.5,300 459.3,292.3 459.8,294 461,305 463,321 464.8,339.5 467.5,385 468.2,420 468.5,440 470.5,455.5 472.1,471 474,483.5 476.8,492.8 478.5,490 480.4,483.5 482.5,471 484,455.5 485,440 485.3,420 487,394.5 488,376 488.4,365 489.3,361.8 490.2,363 492,376 494.2,394.5 496.2,420 497.5,440 499,455.5 500,471 500.6,486.6 501.2,489 501.5,487 501.5,494" fill="#000"/>
<g clip-path="url(#din0)">
<polygon points="305.8,420 313.3,384 314.8,370 316.3,380 318.8,394 322.8,420" fill="#1c1ce0"/>
<rect x="288" y="400" width="16" height="16" fill="#4418b8"/>
<rect x="304" y="400" width="8" height="16" fill="#5a22c0"/>
<rect x="312" y="400" width="8" height="16" fill="#7a2c8c"/>
<rect x="320" y="400" width="16" height="16" fill="#5a1ca0"/>
<rect x="288" y="416" width="24" height="32" fill="#3422c8"/>
<rect x="312" y="416" width="8" height="32" fill="#f81212"/>
<rect x="320" y="416" width="4" height="32" fill="#b81c2a"/>
<rect x="324" y="416" width="12" height="32" fill="#6a1040"/>
<rect x="288" y="448" width="24" height="16" fill="#cc1c2c"/>
<rect x="312" y="448" width="8" height="16" fill="#ff1010"/>
<rect x="320" y="448" width="16" height="16" fill="#a82028"/>
<rect x="288" y="464" width="24" height="16" fill="#c23c1c"/>
<rect x="312" y="464" width="8" height="16" fill="#a85222"/>
<rect x="320" y="464" width="16" height="16" fill="#a04420"/>
<rect x="288" y="480" width="48" height="15" fill="#7c6a14"/>
<rect x="312" y="480" width="8" height="14" fill="#128c14"/>
</g>
<g clip-path="url(#din1)">
<polygon points="335.1,420 342.6,376 344.1,362 345.6,372 348.1,386 352.1,420" fill="#1c1ce0"/>
<rect x="320" y="400" width="16" height="16" fill="#4418b8"/>
<rect x="336" y="400" width="8" height="16" fill="#5a22c0"/>
<rect x="344" y="400" width="8" height="16" fill="#7a2c8c"/>
<rect x="352" y="400" width="16" height="16" fill="#5a1ca0"/>
<rect x="320" y="416" width="24" height="32" fill="#3422c8"/>
<rect x="344" y="416" width="8" height="32" fill="#f81212"/>
<rect x="352" y="416" width="4" height="32" fill="#b81c2a"/>
<rect x="356" y="416" width="12" height="32" fill="#6a1040"/>
<rect x="320" y="448" width="24" height="16" fill="#cc1c2c"/>
<rect x="344" y="448" width="8" height="16" fill="#ff1010"/>
<rect x="352" y="448" width="16" height="16" fill="#a82028"/>
<rect x="320" y="464" width="24" height="16" fill="#c23c1c"/>
<rect x="344" y="464" width="8" height="16" fill="#a85222"/>
<rect x="352" y="464" width="16" height="16" fill="#a04420"/>
<rect x="320" y="480" width="48" height="15" fill="#7c6a14"/>
<rect x="344" y="480" width="8" height="14" fill="#128c14"/>
</g>
<g clip-path="url(#din2)">
<polygon points="363.4,420 370.9,381 372.4,367 373.9,377 376.4,391 380.4,420" fill="#1c1ce0"/>
<rect x="344" y="400" width="16" height="16" fill="#4418b8"/>
<rect x="360" y="400" width="8" height="16" fill="#5a22c0"/>
<rect x="368" y="400" width="8" height="16" fill="#7a2c8c"/>
<rect x="376" y="400" width="16" height="16" fill="#5a1ca0"/>
<rect x="344" y="416" width="24" height="32" fill="#3422c8"/>
<rect x="368" y="416" width="8" height="32" fill="#f81212"/>
<rect x="376" y="416" width="4" height="32" fill="#b81c2a"/>
<rect x="380" y="416" width="12" height="32" fill="#6a1040"/>
<rect x="344" y="448" width="24" height="16" fill="#cc1c2c"/>
<rect x="368" y="448" width="8" height="16" fill="#ff1010"/>
<rect x="376" y="448" width="16" height="16" fill="#a82028"/>
<rect x="344" y="464" width="24" height="16" fill="#c23c1c"/>
<rect x="368" y="464" width="8" height="16" fill="#a85222"/>
<rect x="376" y="464" width="16" height="16" fill="#a04420"/>
<rect x="344" y="480" width="48" height="15" fill="#7c6a14"/>
<rect x="368" y="480" width="8" height="14" fill="#128c14"/>
</g>
<g clip-path="url(#din3)">
<polygon points="392.3,420 399.8,372 401.3,358 402.8,368 405.3,382 409.3,420" fill="#1c1ce0"/>
<rect x="376" y="400" width="16" height="16" fill="#4418b8"/>
<rect x="392" y="400" width="8" height="16" fill="#5a22c0"/>
<rect x="400" y="400" width="8" height="16" fill="#7a2c8c"/>
<rect x="408" y="400" width="16" height="16" fill="#5a1ca0"/>
<rect x="376" y="416" width="24" height="32" fill="#3422c8"/>
<rect x="400" y="416" width="8" height="32" fill="#f81212"/>
<rect x="408" y="416" width="4" height="32" fill="#b81c2a"/>
<rect x="412" y="416" width="12" height="32" fill="#6a1040"/>
<rect x="376" y="448" width="24" height="16" fill="#cc1c2c"/>
<rect x="400" y="448" width="8" height="16" fill="#ff1010"/>
<rect x="408" y="448" width="16" height="16" fill="#a82028"/>
<rect x="376" y="464" width="24" height="16" fill="#c23c1c"/>
<rect x="400" y="464" width="8" height="16" fill="#a85222"/>
<rect x="408" y="464" width="16" height="16" fill="#a04420"/>
<rect x="376" y="480" width="48" height="15" fill="#7c6a14"/>
<rect x="400" y="480" width="8" height="14" fill="#128c14"/>
</g>
<g clip-path="url(#din4)">
<polygon points="421.9,420 429.4,370 430.9,356 432.4,366 434.9,380 438.9,420" fill="#1c1ce0"/>
<rect x="400" y="400" width="16" height="16" fill="#4418b8"/>
<rect x="416" y="400" width="8" height="16" fill="#5a22c0"/>
<rect x="424" y="400" width="8" height="16" fill="#7a2c8c"/>
<rect x="432" y="400" width="16" height="16" fill="#5a1ca0"/>
<rect x="400" y="416" width="24" height="32" fill="#3422c8"/>
<rect x="424" y="416" width="8" height="32" fill="#f81212"/>
<rect x="432" y="416" width="4" height="32" fill="#b81c2a"/>
<rect x="436" y="416" width="12" height="32" fill="#6a1040"/>
<rect x="400" y="448" width="24" height="16" fill="#cc1c2c"/>
<rect x="424" y="448" width="8" height="16" fill="#ff1010"/>
<rect x="432" y="448" width="16" height="16" fill="#a82028"/>
<rect x="424" y="416" width="8" height="32" fill="#c83020"/>
<rect x="432" y="416" width="16" height="48" fill="#c03020"/>
<rect x="400" y="464" width="24" height="16" fill="#c23c1c"/>
<rect x="424" y="464" width="8" height="16" fill="#a85222"/>
<rect x="432" y="464" width="16" height="16" fill="#a04420"/>
<rect x="400" y="480" width="48" height="15" fill="#7c6a14"/>
<rect x="424" y="480" width="8" height="14" fill="#128c14"/>
<rect x="432" y="480" width="8" height="14" fill="#128c14"/>
</g>
<g clip-path="url(#din5)">
<polygon points="450.3,420 457.8,373.5 459.3,359.5 460.8,369.5 463.3,383.5 467.3,420" fill="#1c1ce0"/>
<rect x="432" y="400" width="16" height="16" fill="#4418b8"/>
<rect x="448" y="400" width="8" height="16" fill="#5a22c0"/>
<rect x="456" y="400" width="8" height="16" fill="#7a2c8c"/>
<rect x="464" y="400" width="16" height="16" fill="#5a1ca0"/>
<rect x="432" y="416" width="24" height="32" fill="#3422c8"/>
<rect x="456" y="416" width="8" height="32" fill="#f81212"/>
<rect x="464" y="416" width="4" height="32" fill="#b81c2a"/>
<rect x="468" y="416" width="12" height="32" fill="#6a1040"/>
<rect x="432" y="448" width="24" height="16" fill="#cc1c2c"/>
<rect x="456" y="448" width="8" height="16" fill="#ff1010"/>
<rect x="464" y="448" width="16" height="16" fill="#a82028"/>
<rect x="432" y="464" width="24" height="16" fill="#c23c1c"/>
<rect x="456" y="464" width="8" height="16" fill="#a85222"/>
<rect x="464" y="464" width="16" height="16" fill="#a04420"/>
<rect x="432" y="480" width="48" height="15" fill="#7c6a14"/>
<rect x="456" y="480" width="8" height="14" fill="#128c14"/>
</g>
<g clip-path="url(#din6)">
<polygon points="478.4,470 486.4,433.8 488.4,421.8 490.4,429.8 493.4,443.8 497.4,470" fill="#1c1ce0"/>
<rect x="464" y="447" width="48" height="17" fill="#a02c44"/>
<rect x="464" y="464" width="24" height="15" fill="#b03a24"/>
<rect x="488" y="464" width="8" height="15" fill="#ff1010"/>
<rect x="496" y="464" width="16" height="15" fill="#a83028"/>
<rect x="464" y="479" width="48" height="15" fill="#7c6a14"/>
<rect x="488" y="480" width="8" height="14" fill="#128c14"/>
</g>
<linearGradient id="tipg0" gradientUnits="userSpaceOnUse" x1="0" y1="311.8" x2="0" y2="321.8"><stop offset="0" stop-color="#fff" stop-opacity="0.75"/><stop offset="1" stop-color="#fff" stop-opacity="0"/></linearGradient>
<rect x="312.3" y="311.8" width="5" height="10" fill="url(#tipg0)"/>
<linearGradient id="tipg1" gradientUnits="userSpaceOnUse" x1="0" y1="319.7" x2="0" y2="329.7"><stop offset="0" stop-color="#fff" stop-opacity="0.75"/><stop offset="1" stop-color="#fff" stop-opacity="0"/></linearGradient>
<rect x="317.2" y="319.7" width="5" height="10" fill="url(#tipg1)"/>
<linearGradient id="tipg2" gradientUnits="userSpaceOnUse" x1="0" y1="311" x2="0" y2="321"><stop offset="0" stop-color="#fff" stop-opacity="0.75"/><stop offset="1" stop-color="#fff" stop-opacity="0"/></linearGradient>
<rect x="341.6" y="311" width="5" height="10" fill="url(#tipg2)"/>
<linearGradient id="tipg3" gradientUnits="userSpaceOnUse" x1="0" y1="322.5" x2="0" y2="332.5"><stop offset="0" stop-color="#fff" stop-opacity="0.75"/><stop offset="1" stop-color="#fff" stop-opacity="0"/></linearGradient>
<rect x="345.9" y="322.5" width="5" height="10" fill="url(#tipg3)"/>
<linearGradient id="tipg4" gradientUnits="userSpaceOnUse" x1="0" y1="319.2" x2="0" y2="329.2"><stop offset="0" stop-color="#fff" stop-opacity="0.75"/><stop offset="1" stop-color="#fff" stop-opacity="0"/></linearGradient>
<rect x="369.9" y="319.2" width="5" height="10" fill="url(#tipg4)"/>
<linearGradient id="tipg5" gradientUnits="userSpaceOnUse" x1="0" y1="323.6" x2="0" y2="333.6"><stop offset="0" stop-color="#fff" stop-opacity="0.75"/><stop offset="1" stop-color="#fff" stop-opacity="0"/></linearGradient>
<rect x="375.3" y="323.6" width="5" height="10" fill="url(#tipg5)"/>
<linearGradient id="tipg6" gradientUnits="userSpaceOnUse" x1="0" y1="307.7" x2="0" y2="317.7"><stop offset="0" stop-color="#fff" stop-opacity="0.75"/><stop offset="1" stop-color="#fff" stop-opacity="0"/></linearGradient>
<rect x="398.8" y="307.7" width="5" height="10" fill="url(#tipg6)"/>
<linearGradient id="tipg7" gradientUnits="userSpaceOnUse" x1="0" y1="310" x2="0" y2="320"><stop offset="0" stop-color="#fff" stop-opacity="0.75"/><stop offset="1" stop-color="#fff" stop-opacity="0"/></linearGradient>
<rect x="403.7" y="310" width="5" height="10" fill="url(#tipg7)"/>
<linearGradient id="tipg8" gradientUnits="userSpaceOnUse" x1="0" y1="297" x2="0" y2="307"><stop offset="0" stop-color="#fff" stop-opacity="0.75"/><stop offset="1" stop-color="#fff" stop-opacity="0"/></linearGradient>
<rect x="428.4" y="297" width="5" height="10" fill="url(#tipg8)"/>
<linearGradient id="tipg9" gradientUnits="userSpaceOnUse" x1="0" y1="298.7" x2="0" y2="308.7"><stop offset="0" stop-color="#fff" stop-opacity="0.75"/><stop offset="1" stop-color="#fff" stop-opacity="0"/></linearGradient>
<rect x="432.2" y="298.7" width="5" height="10" fill="url(#tipg9)"/>
<linearGradient id="tipg10" gradientUnits="userSpaceOnUse" x1="0" y1="291.3" x2="0" y2="301.3"><stop offset="0" stop-color="#fff" stop-opacity="0.75"/><stop offset="1" stop-color="#fff" stop-opacity="0"/></linearGradient>
<rect x="456.8" y="291.3" width="5" height="10" fill="url(#tipg10)"/>
<linearGradient id="tipg11" gradientUnits="userSpaceOnUse" x1="0" y1="360.8" x2="0" y2="370.8"><stop offset="0" stop-color="#fff" stop-opacity="0.75"/><stop offset="1" stop-color="#fff" stop-opacity="0"/></linearGradient>
<rect x="486.8" y="360.8" width="5" height="10" fill="url(#tipg11)"/>
<rect x="299.5" y="280" width="202" height="214" fill="none" stroke="#a8a8a8" stroke-width="1"/>
<line x1="313.9" y1="494" x2="313.9" y2="491" stroke="#404040" stroke-width="0.9"/>
<line x1="313.9" y1="280" x2="313.9" y2="283" stroke="#404040" stroke-width="0.9"/>
<line x1="342.7" y1="494" x2="342.7" y2="491" stroke="#404040" stroke-width="0.9"/>
<line x1="342.7" y1="280" x2="342.7" y2="283" stroke="#404040" stroke-width="0.9"/>
<line x1="371.5" y1="494" x2="371.5" y2="491" stroke="#404040" stroke-width="0.9"/>
<line x1="371.5" y1="280" x2="371.5" y2="283" stroke="#404040" stroke-width="0.9"/>
<line x1="400.3" y1="494" x2="400.3" y2="491" stroke="#404040" stroke-width="0.9"/>
<line x1="400.3" y1="280" x2="400.3" y2="283" stroke="#404040" stroke-width="0.9"/>
<line x1="429.1" y1="494" x2="429.1" y2="491" stroke="#404040" stroke-width="0.9"/>
<line x1="429.1" y1="280" x2="429.1" y2="283" stroke="#404040" stroke-width="0.9"/>
<line x1="457.9" y1="494" x2="457.9" y2="491" stroke="#404040" stroke-width="0.9"/>
<line x1="457.9" y1="280" x2="457.9" y2="283" stroke="#404040" stroke-width="0.9"/>
<line x1="486.7" y1="494" x2="486.7" y2="491" stroke="#404040" stroke-width="0.9"/>
<line x1="486.7" y1="280" x2="486.7" y2="283" stroke="#404040" stroke-width="0.9"/>
<line x1="299.5" y1="494.15" x2="302.5" y2="494.15" stroke="#404040" stroke-width="0.9"/>
<line x1="501.5" y1="494.15" x2="498.5" y2="494.15" stroke="#404040" stroke-width="0.9"/>
<line x1="299.5" y1="456.6" x2="302.5" y2="456.6" stroke="#404040" stroke-width="0.9"/>
<line x1="501.5" y1="456.6" x2="498.5" y2="456.6" stroke="#404040" stroke-width="0.9"/>
<line x1="299.5" y1="419.05" x2="302.5" y2="419.05" stroke="#404040" stroke-width="0.9"/>
<line x1="501.5" y1="419.05" x2="498.5" y2="419.05" stroke="#404040" stroke-width="0.9"/>
<line x1="299.5" y1="381.5" x2="302.5" y2="381.5" stroke="#404040" stroke-width="0.9"/>
<line x1="501.5" y1="381.5" x2="498.5" y2="381.5" stroke="#404040" stroke-width="0.9"/>
<line x1="299.5" y1="343.95" x2="302.5" y2="343.95" stroke="#404040" stroke-width="0.9"/>
<line x1="501.5" y1="343.95" x2="498.5" y2="343.95" stroke="#404040" stroke-width="0.9"/>
<line x1="299.5" y1="306.4" x2="302.5" y2="306.4" stroke="#404040" stroke-width="0.9"/>
<line x1="501.5" y1="306.4" x2="498.5" y2="306.4" stroke="#404040" stroke-width="0.9"/>
<text x="313.9" y="502.8" font-size="7.55" stroke="#454545" stroke-width="0.25" text-anchor="middle" fill="#454545" textLength="15.61" lengthAdjust="spacingAndGlyphs">Mon</text>
<text x="342.7" y="502.8" font-size="7.55" stroke="#454545" stroke-width="0.25" text-anchor="middle" fill="#454545" textLength="13.76" lengthAdjust="spacingAndGlyphs">Tue</text>
<text x="371.5" y="502.8" font-size="7.55" stroke="#454545" stroke-width="0.25" text-anchor="middle" fill="#454545" textLength="16.57" lengthAdjust="spacingAndGlyphs">Wed</text>
<text x="400.3" y="502.8" font-size="7.55" stroke="#454545" stroke-width="0.25" text-anchor="middle" fill="#454545" textLength="13.9" lengthAdjust="spacingAndGlyphs">Thu</text>
<text x="429.1" y="502.8" font-size="7.55" stroke="#454545" stroke-width="0.25" text-anchor="middle" fill="#454545" textLength="9.35" lengthAdjust="spacingAndGlyphs">Fri</text>
<text x="457.9" y="502.8" font-size="7.55" stroke="#454545" stroke-width="0.25" text-anchor="middle" fill="#454545" textLength="12.14" lengthAdjust="spacingAndGlyphs">Sat</text>
<text x="486.7" y="502.8" font-size="7.55" stroke="#454545" stroke-width="0.25" text-anchor="middle" fill="#454545" textLength="14.08" lengthAdjust="spacingAndGlyphs">Sun</text>
<text x="296" y="496.75" font-size="7.55" stroke="#454545" stroke-width="0.25" text-anchor="end" fill="#454545" textLength="11.77" lengthAdjust="spacingAndGlyphs">0.0</text>
<text x="296" y="459.2" font-size="7.55" stroke="#454545" stroke-width="0.25" text-anchor="end" fill="#454545" textLength="11.77" lengthAdjust="spacingAndGlyphs">0.2</text>
<text x="296" y="421.65" font-size="7.55" stroke="#454545" stroke-width="0.25" text-anchor="end" fill="#454545" textLength="11.77" lengthAdjust="spacingAndGlyphs">0.4</text>
<text x="296" y="384.1" font-size="7.55" stroke="#454545" stroke-width="0.25" text-anchor="end" fill="#454545" textLength="11.77" lengthAdjust="spacingAndGlyphs">0.6</text>
<text x="296" y="346.55" font-size="7.55" stroke="#454545" stroke-width="0.25" text-anchor="end" fill="#454545" textLength="11.77" lengthAdjust="spacingAndGlyphs">0.8</text>
<text x="296" y="309" font-size="7.55" stroke="#454545" stroke-width="0.25" text-anchor="end" fill="#454545" textLength="11.77" lengthAdjust="spacingAndGlyphs">1.0</text>
<text x="400.5" y="514.7" font-size="9.38" stroke="#454545" stroke-width="0.25" text-anchor="middle" fill="#454545" textLength="42.67" lengthAdjust="spacingAndGlyphs">Weekday</text>
<text x="279" y="387.8" font-size="9.28" stroke="#454545" stroke-width="0.25" text-anchor="middle" fill="#454545" textLength="99.16" lengthAdjust="spacingAndGlyphs" transform="rotate(-90 279 387.8)">Charging power [MW]</text>
<text x="400.2" y="274.1" font-size="10" stroke="#454545" stroke-width="0.25" text-anchor="middle" fill="#454545" textLength="13.87" lengthAdjust="spacingAndGlyphs">(d)</text>
<rect x="282.5" y="530.3" width="235.3" height="13.7" rx="2" fill="#fff" stroke="#d8d8d8" stroke-width="0.8"/>
<rect x="287.5" y="530.8" width="16" height="12.8" fill="#eefcfc"/>
<rect x="344.5" y="530.8" width="23" height="12.8" fill="#fdedf7"/>
<rect x="352" y="530.8" width="8" height="12.8" fill="#fbdcf1"/>
<rect x="285.5" y="534.2" width="15" height="4.4" fill="#2d6a00"/>
<text x="306" y="539.3" font-size="7.65" stroke="#454545" stroke-width="0.25" text-anchor="start" fill="#454545" textLength="26.07" lengthAdjust="spacingAndGlyphs">3.7 kW</text>
<rect x="350.4" y="534.2" width="15" height="4.4" fill="#8a3a0c"/>
<text x="371" y="539.3" font-size="7.65" stroke="#454545" stroke-width="0.25" text-anchor="start" fill="#454545" textLength="23.68" lengthAdjust="spacingAndGlyphs">11 kW</text>
<rect x="409.6" y="534.2" width="15" height="4.4" fill="#0000ee"/>
<text x="430.7" y="539.3" font-size="7.65" stroke="#454545" stroke-width="0.25" text-anchor="start" fill="#454545" textLength="23.68" lengthAdjust="spacingAndGlyphs">22 kW</text>
<rect x="470" y="534.2" width="15" height="4.4" fill="#000"/>
<text x="491" y="539.3" font-size="7.65" stroke="#454545" stroke-width="0.25" text-anchor="start" fill="#454545" textLength="23.68" lengthAdjust="spacingAndGlyphs">50 kW</text>
</g>
</svg></body></html>
